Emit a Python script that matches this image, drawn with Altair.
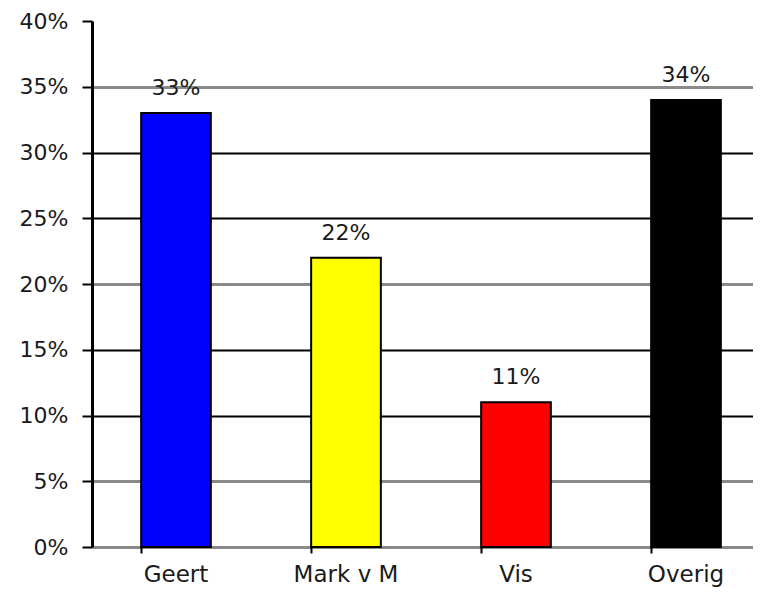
import altair as alt
import pandas as pd

categories = ["Geert", "Mark v M", "Vis", "Overig"]
values = [0.33, 0.22, 0.11, 0.34]
bar_colors = ["#0000FF", "#FFFF00", "#FF0000", "#000000"]
tick_values = [0, 0.05, 0.10, 0.15, 0.20, 0.25, 0.30, 0.35, 0.40]

df = pd.DataFrame({"cat": categories, "val": values, "color": bar_colors})

FONT = "DejaVu Sans"

x = alt.X(
    "cat:N",
    sort=categories,
    title=None,
    scale=alt.Scale(range=[0, 680], paddingInner=0.59, paddingOuter=0.295, align=0.49),
    axis=alt.Axis(
        labelAngle=0,
        bandPosition=0,
        domain=False,
        grid=False,
        ticks=True,
        tickColor="#000000",
        tickWidth=2,
        tickSize=6,
        labelFont=FONT,
        labelFontSize=23,
        labelColor="#1a1a1a",
        labelBaseline="alphabetic",
        labelPadding=28,
    ),
)

y = alt.Y(
    "val:Q",
    title=None,
    scale=alt.Scale(domain=[0, 0.4], nice=False),
    axis=alt.Axis(
        values=tick_values,
        format=".0%",
        domain=True,
        domainColor="#000000",
        domainWidth=3,
        ticks=True,
        tickColor="#000000",
        tickWidth=2,
        tickSize=10,
        labelFont=FONT,
        labelFontSize=22,
        labelColor="#1a1a1a",
        labelPadding=14,
        grid=True,
        gridColor={
            "condition": {
                "test": "round(datum.value*20) % 3 == 1 || round(datum.value*20) == 0",
                "value": "#8a8a8a",
            },
            "value": "#000000",
        },
        gridWidth={
            "condition": {
                "test": "round(datum.value*20) % 3 == 1 || round(datum.value*20) == 0",
                "value": 3,
            },
            "value": 2,
        },
        gridOpacity={
            "condition": {"test": "round(datum.value*20) == 8", "value": 0},
            "value": 1,
        },
    ),
)

bars = alt.Chart(df).mark_bar(stroke="#000000", strokeWidth=2).encode(
    x=x,
    y=y,
    color=alt.Color("color:N", scale=None, legend=None),
)

labels = alt.Chart(df).mark_text(
    font=FONT, fontSize=22, color="#1a1a1a", baseline="alphabetic", dy=-18
).encode(
    x=alt.X("cat:N", sort=categories),
    y=alt.Y("val:Q"),
    text=alt.Text("val:Q", format=".0%"),
)

chart = (
    alt.layer(bars, labels)
    .properties(
        width=661,
        height=526,
        autosize=alt.AutoSizeParams(type="none"),
        padding={"left": 84, "top": 13, "right": 0, "bottom": 41},
        background="#ffffff",
    )
    .configure_view(stroke=None)
)

chart.save("out.html", embed_options={"renderer": "svg", "actions": False})
